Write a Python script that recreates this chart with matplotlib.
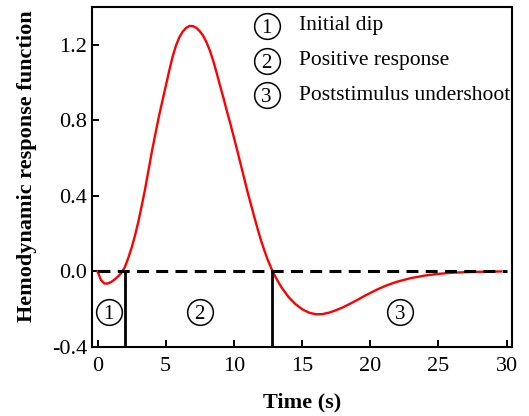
import matplotlib
matplotlib.use("Agg")
import matplotlib.pyplot as plt

# valores (tempo em s, resposta hemodinamica)
tempo = [0, 0.25, 0.5, 0.75, 1.0, 1.25, 1.5, 1.75, 2.0, 2.25, 2.5, 2.75,
         3.0, 3.25, 3.5, 3.75, 4.0, 4.25, 4.5, 4.75, 5.0, 5.25, 5.5, 5.75,
         6.0, 6.25, 6.5, 6.75, 7.0, 7.25, 7.5, 7.75, 8.0, 8.25, 8.5, 8.75,
         9.0, 9.25, 9.5, 9.75, 10.0, 10.25, 10.5, 10.75, 11.0, 11.25, 11.5,
         11.75, 12.0, 12.25, 12.5, 12.75, 13.0, 13.25, 13.5, 13.75, 14.0,
         14.5, 15.0, 15.5, 16.0, 16.5, 17.0, 17.5, 18.0, 18.5, 19.0, 19.5,
         20.0, 20.5, 21.0, 21.5, 22.0, 23.0, 24.0, 25.0, 26.0, 27.0, 28.0,
         29.0, 29.6]
hrf = [0.0, -0.045, -0.064, -0.064, -0.056, -0.043, -0.027, -0.008, 0.022,
       0.07, 0.125, 0.19, 0.265, 0.35, 0.44, 0.54, 0.64, 0.73, 0.82, 0.90,
       0.98, 1.06, 1.135, 1.195, 1.24, 1.27, 1.29, 1.30, 1.299, 1.29, 1.272,
       1.248, 1.212, 1.168, 1.112, 1.048, 0.98, 0.915, 0.845, 0.78, 0.71,
       0.64, 0.567, 0.495, 0.422, 0.355, 0.288, 0.223, 0.162, 0.108, 0.058,
       0.015, -0.022, -0.055, -0.085, -0.11, -0.135, -0.172, -0.2, -0.218,
       -0.227, -0.226, -0.218, -0.205, -0.19, -0.172, -0.153, -0.133, -0.114,
       -0.096, -0.08, -0.066, -0.054, -0.035, -0.022, -0.013, -0.007, -0.004,
       -0.002, -0.001, 0.0]

limites_fases = [2.0, 12.8]
fases = ["1", "2", "3"]
pos_fases = [0.82, 7.5, 22.2]
y_fases = -0.215
descricoes = ["Initial dip", "Positive response", "Poststimulus undershoot"]
x_leg = 12.4
y_leg = [1.30, 1.116, 0.932]

plt.rcParams['font.family'] = ['Liberation Serif', 'DejaVu Serif']

fig = plt.figure(figsize=(5.29, 4.16), dpi=100)
ax = fig.add_axes([0.174, 0.166, 0.794, 0.817])

ax.plot(tempo, hrf, color='red', lw=1.7, zorder=2)
ax.plot([0, 30], [0, 0], color='black', lw=2.2, ls=(0, (3.9, 2.4)), zorder=3)
for xl in limites_fases:
    ax.plot([xl, xl], [-0.4, 0], color='black', lw=2.0, zorder=3)

# numeros dentro de circulos
def numero_circulado(x, y, n):
    ax.plot([x], [y], 'o', ms=18.5, mfc='white', mec='black', mew=1.1, zorder=4)
    ax.annotate(n, (x, y), xytext=(0, -5), textcoords='offset points',
                ha='center', va='baseline', fontsize=15, zorder=5)

for n, xp in zip(fases, pos_fases):
    numero_circulado(xp, y_fases, n)

for n, d, yl in zip(fases, descricoes, y_leg):
    numero_circulado(x_leg, yl, n)
    ax.text(14.75, yl, d, ha='left', va='center', fontsize=15.5)

ax.set_xlim(-0.4, 30.4)
ax.set_ylim(-0.4, 1.4)
ax.set_xticks(range(0, 31, 5))
ax.set_yticks([-0.4, 0.0, 0.4, 0.8, 1.2])
ax.set_yticklabels(['-0.4', '0.0', '0.4', '0.8', '1.2'])
ax.tick_params(direction='in', length=5, width=1.4, labelsize=16)
ax.tick_params(axis='x', pad=7)
for s in ax.spines.values():
    s.set_linewidth(1.5)

ax.set_xlabel('Time (s)', fontsize=16, fontweight='bold', labelpad=12)
ax.set_ylabel('Hemodynamic response function', fontsize=16, fontweight='bold', labelpad=11)
ax.yaxis.label.set_y(0.532)

fig.savefig('out.png', dpi=100)
